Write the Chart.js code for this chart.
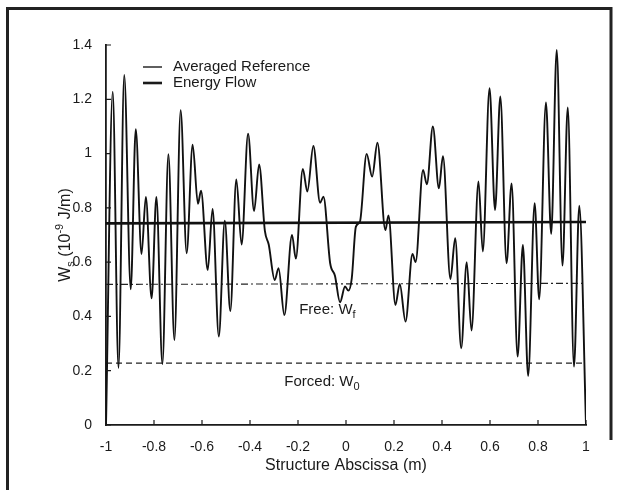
<!DOCTYPE html>
<html>
<head>
<meta charset="utf-8">
<title>Averaged Reference vs Energy Flow</title>
<script src="https://cdn.jsdelivr.net/npm/chart.js@4.4.1/dist/chart.umd.min.js"></script>
<style>
  html, body { margin: 0; padding: 0; background: #fff; }
  canvas { display: block; }
</style>
</head>
<body>
<canvas id="chart" width="620" height="490"></canvas>
<script>
// Averaged reference (x in m, y in 1e-9 J/m)
const refX = [
  -1.000, -0.972, -0.948, -0.924, -0.897, -0.876, -0.852, -0.834, -0.810, -0.790,
  -0.765, -0.740, -0.715, -0.689, -0.664, -0.639, -0.617, -0.604, -0.576, -0.556,
  -0.530, -0.505, -0.482, -0.457, -0.435, -0.408, -0.383, -0.362, -0.338, -0.322,
  -0.297, -0.281, -0.257, -0.225, -0.209, -0.180, -0.161, -0.136, -0.108, -0.094,
  -0.066, -0.046, -0.025, -0.004, 0.010, 0.024, 0.041, 0.058, 0.086, 0.109,
  0.131, 0.164, 0.177, 0.206, 0.224, 0.248, 0.277, 0.290, 0.321, 0.337,
  0.362, 0.387, 0.404, 0.435, 0.455, 0.480, 0.503, 0.523, 0.552, 0.570,
  0.598, 0.621, 0.643, 0.669, 0.690, 0.715, 0.737, 0.759, 0.786, 0.805,
  0.833, 0.855, 0.878, 0.902, 0.924, 0.950, 0.972, 1.000
];
const refY = [
  0.00, 1.228, 0.21, 1.29, 0.50, 1.09, 0.63, 0.84, 0.467, 0.84,
  0.225, 0.998, 0.313, 1.16, 0.633, 1.033, 0.815, 0.863, 0.571, 0.796,
  0.326, 0.753, 0.42, 0.905, 0.665, 1.073, 0.788, 0.96, 0.715, 0.665,
  0.534, 0.578, 0.405, 0.70, 0.613, 0.943, 0.86, 1.028, 0.819, 0.841,
  0.596, 0.55, 0.452, 0.51, 0.495, 0.54, 0.73, 0.749, 0.999, 0.915,
  1.04, 0.718, 0.772, 0.442, 0.52, 0.381, 0.63, 0.60, 0.94, 0.887,
  1.10, 0.872, 0.99, 0.538, 0.688, 0.283, 0.60, 0.348, 0.897, 0.639,
  1.241, 0.792, 1.21, 0.596, 0.89, 0.252, 0.663, 0.181, 0.817, 0.463,
  1.188, 0.704, 1.382, 0.587, 1.17, 0.215, 0.808, 0.00
];

// Energy flow, free and forced levels
const flowX = [-1, 1];
const flowY = [0.743, 0.748];
const freeX = [-1, 1];
const freeY = [0.518, 0.522];
const forcedX = [-1, 1];
const forcedY = [0.228, 0.228];

const xTicks = [-1, -0.8, -0.6, -0.4, -0.2, 0, 0.2, 0.4, 0.6, 0.8, 1];
const xTickLabels = ['-1', '-0.8', '-0.6', '-0.4', '-0.2', '0', '0.2', '0.4', '0.6', '0.8', '1'];
const yTicks = [0, 0.2, 0.4, 0.6, 0.8, 1, 1.2, 1.4];
const yTickLabels = ['0', '0.2', '0.4', '0.6', '0.8', '1', '1.2', '1.4'];

const FONT = "'Liberation Sans', Arial, Helvetica, sans-serif";
const INK = '#1a1a1a';

const toPoints = (xs, ys) => xs.map((x, i) => ({ x: x, y: ys[i] }));

// text with sub/superscripts, parts: [{t, size, dy}]
function richText(ctx, parts, x, y, opts) {
    const angle = (opts && opts.angle) || 0;
    const center = opts && opts.center;
    ctx.save();
    ctx.translate(x, y);
    ctx.rotate(angle);
    ctx.textBaseline = 'middle';
    ctx.textAlign = 'left';
    ctx.fillStyle = INK;
    let total = 0;
    parts.forEach(p => {
        ctx.font = p.size + 'px ' + FONT;
        p.w = ctx.measureText(p.t).width;
        total += p.w;
    });
    let cx = center ? -total / 2 : 0;
    parts.forEach(p => {
        ctx.font = p.size + 'px ' + FONT;
        ctx.fillText(p.t, cx, p.dy || 0);
        cx += p.w;
    });
    ctx.restore();
}

const decor = {
    id: 'decor',
    afterDraw(chart) {
        const { ctx, scales: { x, y } } = chart;
        ctx.save();

        // outer frame
        ctx.strokeStyle = '#222';
        ctx.lineWidth = 3;
        ctx.beginPath();
        ctx.moveTo(7.5, 490);
        ctx.lineTo(7.5, 8.5);
        ctx.lineTo(611, 8.5);
        ctx.lineTo(611, 440);
        ctx.stroke();

        // inward tick marks
        ctx.strokeStyle = INK;
        ctx.lineWidth = 1.2;
        ctx.beginPath();
        xTicks.forEach(v => {
            const px = x.getPixelForValue(v);
            ctx.moveTo(px, y.bottom);
            ctx.lineTo(px, y.bottom - 5);
        });
        yTicks.forEach(v => {
            const py = y.getPixelForValue(v);
            ctx.moveTo(x.left, py);
            ctx.lineTo(x.left + 5, py);
        });
        ctx.stroke();

        // legend
        ctx.strokeStyle = INK;
        ctx.lineWidth = 1.4;
        ctx.beginPath();
        ctx.moveTo(143, 67);
        ctx.lineTo(162, 67);
        ctx.stroke();
        ctx.lineWidth = 2.6;
        ctx.beginPath();
        ctx.moveTo(143, 83);
        ctx.lineTo(162, 83);
        ctx.stroke();
        ctx.fillStyle = INK;
        ctx.font = '15px ' + FONT;
        ctx.textBaseline = 'middle';
        ctx.fillText('Averaged Reference', 173, 67);
        ctx.fillText('Energy Flow', 173, 83);

        // level labels
        richText(ctx, [{ t: 'Free: W', size: 15 }, { t: 'f', size: 11, dy: 5 }],
            x.getPixelForValue(-0.195), y.getPixelForValue(0.424));
        richText(ctx, [{ t: 'Forced: W', size: 15 }, { t: '0', size: 11, dy: 5 }],
            x.getPixelForValue(-0.257), y.getPixelForValue(0.158));

        // axis titles
        ctx.fillStyle = INK;
        ctx.font = '16px ' + FONT;
        ctx.textAlign = 'center';
        ctx.textBaseline = 'middle';
        ctx.fillText('Structure Abscissa (m)', (x.left + x.right) / 2, 466);
        richText(ctx, [
            { t: 'W', size: 16 }, { t: 's', size: 11, dy: 5 },
            { t: ' (10', size: 16 }, { t: '-9', size: 11, dy: -6 },
            { t: ' J/m)', size: 16 }
        ], 66, (y.top + y.bottom) / 2, { angle: -Math.PI / 2, center: true });

        ctx.restore();
    }
};

new Chart(document.getElementById('chart'), {
    type: 'line',
    data: {
        datasets: [
            {
                label: 'Averaged Reference',
                data: toPoints(refX, refY),
                borderColor: '#111',
                borderWidth: 1.9,
                pointRadius: 0,
                cubicInterpolationMode: 'monotone'
            },
            {
                label: 'Energy Flow',
                data: toPoints(flowX, flowY),
                borderColor: '#111',
                borderWidth: 2.6,
                pointRadius: 0
            },
            {
                label: 'Free',
                data: toPoints(freeX, freeY),
                borderColor: '#222',
                borderWidth: 1.1,
                borderDash: [7, 3, 2, 3],
                pointRadius: 0
            },
            {
                label: 'Forced',
                data: toPoints(forcedX, forcedY),
                borderColor: '#222',
                borderWidth: 1.1,
                borderDash: [6, 4],
                pointRadius: 0
            }
        ]
    },
    options: {
        responsive: false,
        animation: false,
        devicePixelRatio: 1,
        layout: { padding: { left: 0, top: 45, right: 34, bottom: 0 } },
        plugins: {
            legend: { display: false },
            tooltip: { enabled: false }
        },
        scales: {
            x: {
                type: 'linear',
                min: -1,
                max: 1,
                grid: { display: false },
                border: { display: true, color: INK, width: 1.8 },
                afterBuildTicks: scale => { scale.ticks = xTicks.map(v => ({ value: v })); },
                afterFit: scale => { scale.height = 65; },
                ticks: {
                    padding: 6,
                    color: INK,
                    font: { family: FONT, size: 14 },
                    maxRotation: 0,
                    callback: (v, i) => xTickLabels[i]
                }
            },
            y: {
                min: 0,
                max: 1.4,
                grid: { display: false },
                border: { display: true, color: INK, width: 1.8 },
                afterBuildTicks: scale => { scale.ticks = yTicks.map(v => ({ value: v })); },
                afterFit: scale => { scale.width = 106; },
                ticks: {
                    padding: 6,
                    color: INK,
                    font: { family: FONT, size: 14 },
                    callback: (v, i) => yTickLabels[i]
                }
            }
        }
    },
    plugins: [decor]
});
</script>
</body>
</html>
